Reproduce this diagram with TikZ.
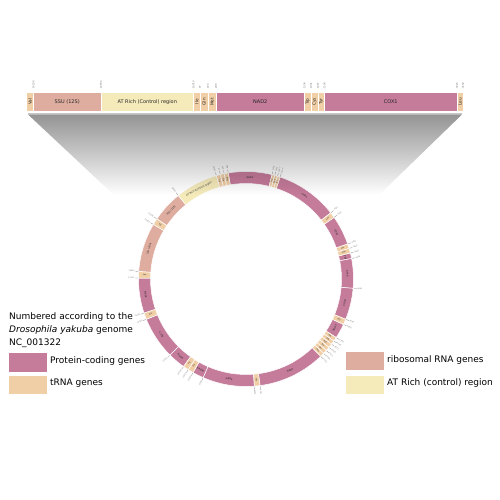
\documentclass[tikz,border=0pt]{standalone}
\usepackage{fontspec}
\setmainfont{DejaVu Sans}
\definecolor{protc}{RGB}{197,123,154}
\definecolor{trnac}{RGB}{240,206,166}
\definecolor{rrnac}{RGB}{222,173,159}
\definecolor{atc}{RGB}{245,234,186}
\tikzset{
    seg/.style={draw=white, line width=0.5pt},
    barlab/.style={font=\fontsize{5}{6}\selectfont, text=black!85, inner sep=0pt},
    bartrna/.style={font=\fontsize{4.2}{5}\selectfont, text=black!85, rotate=90, inner sep=0pt},
    poslab/.style={font=\fontsize{2.4}{3}\selectfont, text=black!55, rotate=90, anchor=west, inner sep=0.2pt},
    ringlab/.style={font=\fontsize{2.4}{3}\selectfont, text=black!85, inner sep=0pt},
    ringnum/.style={font=\fontsize{1.8}{2.2}\selectfont, text=black!55, inner sep=0.2pt},
    tickline/.style={black!45, line width=0.3pt},
    legtext/.style={font=\fontsize{9}{11}\selectfont, inner sep=0pt},
    legbox/.style={draw=white, line width=0.5pt},
}
\begin{document}
\begin{tikzpicture}[x=1pt, y=1pt]
    \useasboundingbox (0,0) rectangle (500,500);
    \fill[white] (0,0) rectangle (500,500);

    % Linear map - genes
    \foreach \xa/\xb/\col/\lab/\pos [count=\i] in {33.5/101/rrnac/SSU (12S)/14994, 101/193.5/atc/AT Rich (Control) region/16019,
        216/304.5/protc/NAD2/1334, 324.5/457/protc/COX1/3025} {
        \filldraw[seg, fill=\col] (\xa,388.5) rectangle (\xb,408);
        \node[barlab] (bg\i) at ({(\xa+\xb)/2},398.25) {\lab};
        \node[poslab] (bp\i) at (\xb,411) {\pos};
    }
    % Linear map - tRNA
    \foreach \xa/\xb/\lab/\pos [count=\i] in {26.5/33.5/Val/14238, 193.5/200/Ile/97, 200/208/Gln/190, 208/216/Met/288,
        304.5/311/Trp/1401, 311/318/Cys/1467, 318/324.5/Tyr/1534, 457/463/Leu/3158} {
        \filldraw[seg, fill=trnac] (\xa,388.5) rectangle (\xb,408);
        \node[bartrna] (bt\i) at ({(\xa+\xb)/2},398.25) {\lab};
        \node[poslab] (bq\i) at (\xb,411) {\pos};
    }

    % Circular map - genes
    \begin{scope}[shift={(246,221)}]
        \foreach \ta/\tb/\col/\lab/\pos [count=\i] in {
            -9.5/14/protc/NAD2/1334, 18.5/52/protc/COX1/3025, 55/71/protc/COX2/3870,
            76/79/protc/ATP8/4226, 79/95/protc/ATP6/4938, 95/112/protc/COX3/5695,
            115/123/protc/NAD3/6184, 136/172.5/protc/NAD5/8387, 175.5/203.5/protc/NAD4/9766,
            203.5/209.5/protc/NAD4L/10033, 215.5/225/protc/NAD6/10723, 225/248/protc/CYTB/11746,
            251.5/270.5/protc/NAD1/12747, 274/300.5/rrnac/LSU (16S)/14082, 304/321/rrnac/SSU (12S)/14994,
            321/344/atc/AT Rich (Control) region/16019} {
            \pgfmathsetmacro\phia{90-\ta}
            \pgfmathsetmacro\phib{90-\tb}
            \pgfmathsetmacro\phim{90-(\ta+\tb)/2}
            \pgfmathsetmacro\rotm{sin(\phim)>=0 ? \phim-90 : \phim+90}
            \filldraw[seg, fill=\col] (\phia:95.5) arc[start angle=\phia, end angle=\phib, radius=95.5]
                -- (\phib:107.5) arc[start angle=\phib, end angle=\phia, radius=107.5] -- cycle;
            \node[ringlab, rotate=\rotm] (g\i) at (\phim:101.5) {\lab};
            \draw[tickline] (\phib:108) -- (\phib:111);
            \pgfmathtruncatemacro\rside{cos(\phib)>=0}
            \ifnum\rside=1
                \node[ringnum, rotate=\phib, anchor=west] (n\i) at (\phib:111.4) {\pos};
            \else
                \pgfmathsetmacro\phic{\phib+180}
                \node[ringnum, rotate=\phic, anchor=east] (n\i) at (\phib:111.4) {\pos};
            \fi
        }
        % Circular map - tRNA
        \foreach \ta/\tb/\lab/\pos [count=\i] in {
            14/15.5/Trp/1401, 15.5/17/Cys/1467, 17/18.5/Tyr/1534, 52/55/Leu/3158,
            71/73.5/Lys/3981, 73.5/76/Asp/4093, 112/115/Gly/5828,
            123/125.2/Ala/6282, 125.2/127.3/Arg/6375, 127.3/129.5/Asn/6473,
            129.5/131.7/Ser/6571, 131.7/133.8/Glu/6664, 133.8/136/Phe/6763,
            172.5/175.5/His/8520, 209.5/212.5/Thr/10167, 212.5/215.5/Pro/10300,
            248/251.5/Ser/11902, 270.5/274/Leu/12903, 300.5/304/Val/14238,
            344/346.2/Ile/97, 346.2/348.3/Gln/190, 348.3/350.5/Met/288} {
            \pgfmathsetmacro\phia{90-\ta}
            \pgfmathsetmacro\phib{90-\tb}
            \pgfmathsetmacro\phim{90-(\ta+\tb)/2}
            \filldraw[seg, fill=trnac] (\phia:95.5) arc[start angle=\phia, end angle=\phib, radius=95.5]
                -- (\phib:107.5) arc[start angle=\phib, end angle=\phia, radius=107.5] -- cycle;
            \pgfmathtruncatemacro\mside{cos(\phim)>=0}
            \ifnum\mside=1
                \node[ringlab, font=\fontsize{2}{2.5}\selectfont, rotate=\phim] (t\i) at (\phim:101.5) {\lab};
            \else
                \pgfmathsetmacro\phic{\phim+180}
                \node[ringlab, font=\fontsize{2}{2.5}\selectfont, rotate=\phic] (t\i) at (\phim:101.5) {\lab};
            \fi
            \draw[tickline] (\phib:108) -- (\phib:111);
            \pgfmathtruncatemacro\rside{cos(\phib)>=0}
            \ifnum\rside=1
                \node[ringnum, rotate=\phib, anchor=west] (m\i) at (\phib:111.4) {\pos};
            \else
                \pgfmathsetmacro\phic{\phib+180}
                \node[ringnum, rotate=\phic, anchor=east] (m\i) at (\phib:111.4) {\pos};
            \fi
        }
    \end{scope}

    % Zoom funnel
    \draw[black!22, line width=1pt] (28,386) -- (462,386);
    \shade[top color=black!42, bottom color=white, blend mode=multiply]
        (28,385.5) -- (462,385.5) -- (379,305) -- (114,305) -- cycle;

    % Legend
    \node[legtext, anchor=base west] (note1) at (9,180) {Numbered according to the};
    \node[legtext, anchor=base west] (note2) at (9,167) {\textit{Drosophila yakuba} genome};
    \node[legtext, anchor=base west] (note3) at (9,154) {NC\_001322};
    \filldraw[legbox, fill=protc] (8,128) rectangle (47,148);
    \filldraw[legbox, fill=trnac] (8,106) rectangle (47,125);
    \filldraw[legbox, fill=rrnac] (345,130) rectangle (384,149);
    \filldraw[legbox, fill=atc] (345,106) rectangle (384,125);
    \node[legtext, anchor=west] (lprot) at (50,139) {Protein-coding genes};
    \node[legtext, anchor=west] (ltrna) at (50,117) {tRNA genes};
    \node[legtext, anchor=west] (lrrna) at (387,140) {ribosomal RNA genes};
    \node[legtext, anchor=west] (lat) at (387,117) {AT Rich (control) region};
\end{tikzpicture}
\end{document}
